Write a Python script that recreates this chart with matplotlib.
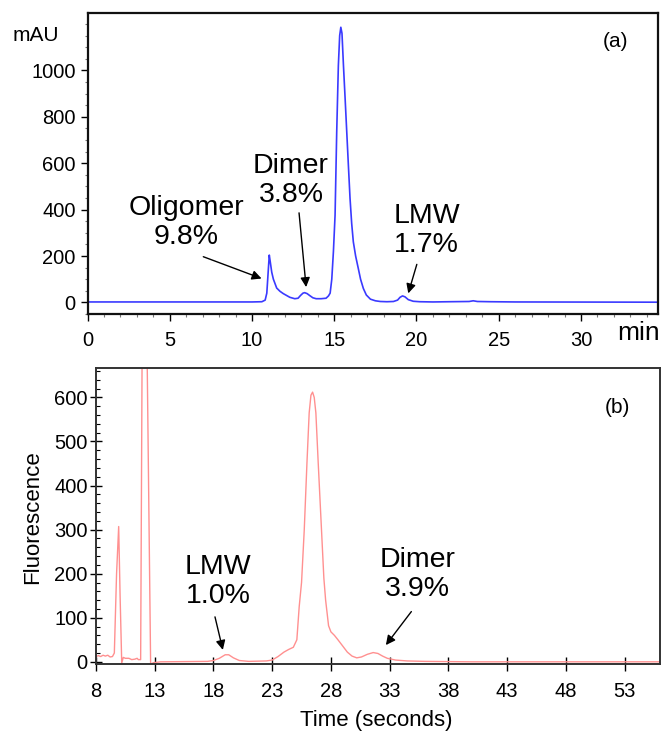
import numpy as np
import matplotlib.pyplot as plt
from matplotlib.ticker import MultipleLocator

plt.rcParams['font.family'] = ['Liberation Sans', 'DejaVu Sans']

# SEC-HPLC trace, UV absorbance (mAU) vs retention time (min)
uv_time = [0, 5, 10, 10.6, 10.8, 10.9, 11.0, 11.05, 11.1, 11.2, 11.3, 11.5, 11.7, 11.9,
           12.1, 12.3, 12.6, 12.8, 12.95, 13.1, 13.2, 13.35, 13.5, 13.7, 13.9, 14.2, 14.5,
           14.65, 14.75, 14.85, 14.95, 15.05, 15.15, 15.25, 15.33, 15.4, 15.47, 15.56, 15.66,
           15.76, 15.86, 15.96, 16.06, 16.16, 16.3, 16.46, 16.6, 16.77, 16.95, 17.2, 17.5,
           17.8, 18.2, 18.6, 18.85, 19.0, 19.15, 19.3, 19.5, 19.8, 20.2, 21, 22, 23.2, 23.45,
           23.7, 24.5, 26, 34.7]
uv_mau = [2, 2, 2, 3, 10, 40, 150, 204, 180, 130, 100, 62, 48, 38,
          30, 22, 16, 18, 30, 40, 42, 38, 30, 20, 16, 16, 18,
          28, 40, 100, 220, 376, 735, 1021, 1150, 1186, 1160, 1021, 880,
          735, 590, 448, 340, 261, 200, 147, 100, 60, 32, 14, 7,
          4, 3, 4, 10, 22, 28, 24, 12, 5, 3, 2, 3, 4, 7,
          4, 3, 2, 1]

# microfluidic electropherogram, fluorescence vs migration time (s)
fl_time = [8.0, 8.2, 8.4, 8.6, 8.8, 9.0, 9.2, 9.4, 9.56, 9.75, 9.93, 10.05, 10.19, 10.32,
           10.5, 10.8, 11.04, 11.3, 11.5, 11.6, 11.8, 12.05, 12.65, 12.9, 13.5, 17.5, 18.0,
           18.5, 19.0, 19.3, 19.7, 20.2, 21, 22.5, 23.0, 23.5, 24.0, 24.4, 24.8, 25.1, 25.3,
           25.5, 25.73, 25.96, 26.15, 26.3, 26.44, 26.58, 26.72, 26.92, 27.2, 27.4, 27.55,
           27.8, 28.0, 28.3, 28.6, 29.0, 29.4, 29.8, 30.2, 30.6, 31.1, 31.6, 32.0, 32.4,
           32.8, 33.5, 34.5, 36, 40, 56]
fl_signal = [12, 14, 12, 15, 13, 15, 11, 12, 20, 200, 307, 150, -3, 10,
             8, 8, 5, 6, 8, 5, 5, 1400, -5, -2, 0, 1, 3,
             8, 16, 16, 9, 3, 1, 2, 4, 12, 22, 28, 33, 50, 125,
             180, 299, 451, 565, 605, 612, 600, 565, 451, 299, 190, 140,
             82, 68, 60, 50, 36, 22, 13, 9, 11, 17, 21, 19, 13,
             8, 4, 2, 1, 0, 0]

arrow = dict(arrowstyle='-|>', color='black', lw=1, mutation_scale=14, shrinkA=0, shrinkB=0)

fig = plt.figure(figsize=(6.64, 7.33), dpi=100)

# (a) UV chromatogram
ax1 = fig.add_axes([0.1318, 0.5716, 0.8596, 0.4102])
ax1.plot(uv_time, uv_mau, color='#3a3aff', lw=1.2)
ax1.set_xlim(0, 34.7)
ax1.set_ylim(-50, 1246)
ax1.xaxis.set_major_locator(MultipleLocator(5))
ax1.xaxis.set_minor_locator(MultipleLocator(1))
ax1.yaxis.set_minor_locator(MultipleLocator(50))
ax1.set_yticks([0, 200, 400, 600, 800, 1000])
ax1.tick_params(which='major', direction='out', length=5, width=1, labelsize=14.5)
ax1.tick_params(axis='x', which='major', pad=7)
ax1.tick_params(which='minor', direction='out', length=2.5, width=0.8, color='#777777')
for s in ax1.spines.values():
    s.set_linewidth(1.6)
    s.set_color('#111111')

ax1.text(5.99, 344, 'Oligomer\n9.8%', fontsize=20.5, ha='center', va='center', linespacing=1.15)
ax1.annotate('', xy=(10.58, 103), xytext=(7.04, 197), arrowprops=arrow)
ax1.text(12.37, 527, 'Dimer\n3.8%', fontsize=20.5, ha='center', va='center', linespacing=1.15)
ax1.annotate('', xy=(13.29, 66), xytext=(12.86, 386), arrowprops=arrow)
ax1.text(20.61, 312, 'LMW\n1.7%', fontsize=20.5, ha='center', va='center', linespacing=1.15)
ax1.annotate('', xy=(19.5, 39), xytext=(20.02, 164), arrowprops=arrow)
ax1.text(0.925, 0.905, '(a)', transform=ax1.transAxes, fontsize=15, ha='center', va='center')

fig.text(0.054, 0.952, 'mAU', fontsize=15, ha='center', va='center')
fig.text(0.962, 0.546, 'min', fontsize=19, ha='center', va='center')

# (b) fluorescence electropherogram
ax2 = fig.add_axes([0.1446, 0.0941, 0.849, 0.404])
ax2.plot(fl_time, fl_signal, color='#ff9090', lw=1.0)
ax2.set_xlim(8, 56.0)
ax2.set_ylim(-5, 667)
ax2.set_xticks(np.arange(8, 56, 5))
ax2.yaxis.set_major_locator(MultipleLocator(100))
ax2.yaxis.set_minor_locator(MultipleLocator(20))
ax2.tick_params(axis='x', which='major', direction='inout', length=10, width=1, labelsize=14.5, pad=8)
ax2.tick_params(axis='y', which='major', direction='inout', length=8, width=1, labelsize=14.5, pad=2)
ax2.tick_params(axis='y', which='minor', direction='in', length=3, width=0.8)
for s in ax2.spines.values():
    s.set_linewidth(1.4)
    s.set_color('#333333')

ax2.text(18.38, 182, 'LMW\n1.0%', fontsize=20.5, ha='center', va='center', linespacing=1.15)
ax2.annotate('', xy=(18.8, 27), xytext=(18.13, 102), arrowprops=arrow)
ax2.text(35.4, 199, 'Dimer\n3.9%', fontsize=20.5, ha='center', va='center', linespacing=1.15)
ax2.annotate('', xy=(32.68, 38), xytext=(34.85, 114), arrowprops=arrow)
ax2.text(0.925, 0.865, '(b)', transform=ax2.transAxes, fontsize=15, ha='center', va='center')

fig.text(0.0497, 0.2947, 'Fluorescence', fontsize=16, rotation=90, ha='center', va='center')
fig.text(0.566, 0.0177, 'Time (seconds)', fontsize=16, ha='center', va='center')

fig.savefig('out.png', dpi=100)
